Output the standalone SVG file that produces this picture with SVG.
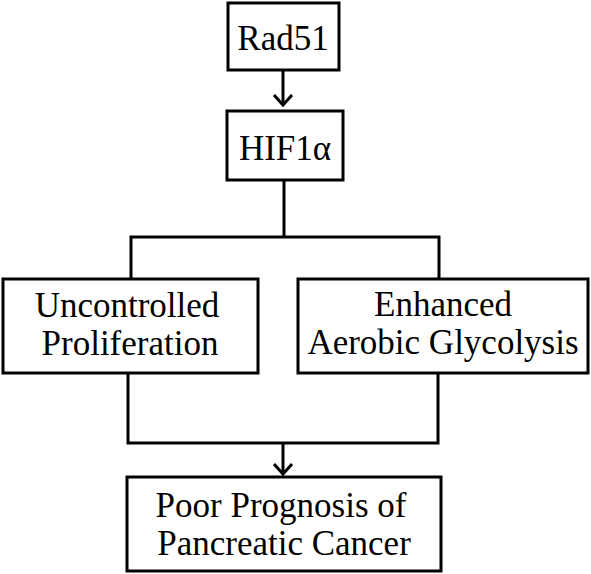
<svg xmlns="http://www.w3.org/2000/svg" width="591" height="574" viewBox="0 0 591 574">
<style>
.box{fill:#fff;stroke:#000;stroke-width:3}
.t{font-family:"Liberation Serif","Times New Roman",serif;font-size:35px;fill:#000;text-anchor:middle}
.c{fill:none;stroke:#000;stroke-width:3}
</style>
<rect width="591" height="574" fill="#fff"/>
<g id="connectors">
<path class="c" d="M283,71 V105"/>
<polyline class="c" points="274,95 283,105 292,95"/>
<path class="c" d="M284,181 V237 M131,279 V237 H439 V279"/>
<path class="c" d="M128,374 V443 H438 V374"/>
<path class="c" d="M283,443 V474"/>
<polyline class="c" points="274,464 283,474 292,464"/>
</g>
<g id="rad51">
<rect class="box" x="228" y="3" width="111" height="67"/>
<text class="t" x="283" y="50">Rad51</text>
</g>
<g id="hif1a">
<rect class="box" x="227" y="111" width="116" height="69"/>
<text class="t" x="285" y="160">HIF1α</text>
</g>
<g id="proliferation">
<rect class="box" x="3" y="279" width="255" height="94"/>
<text class="t" x="127" y="317">Uncontrolled</text>
<text class="t" x="130" y="355">Proliferation</text>
</g>
<g id="glycolysis">
<rect class="box" x="298" y="279" width="290" height="94"/>
<text class="t" x="443" y="316">Enhanced</text>
<text class="t" x="443" y="354">Aerobic Glycolysis</text>
</g>
<g id="prognosis">
<rect class="box" x="127" y="477" width="314" height="94"/>
<text class="t" x="281" y="517">Poor Prognosis of</text>
<text class="t" x="284" y="555">Pancreatic Cancer</text>
</g>
</svg>
